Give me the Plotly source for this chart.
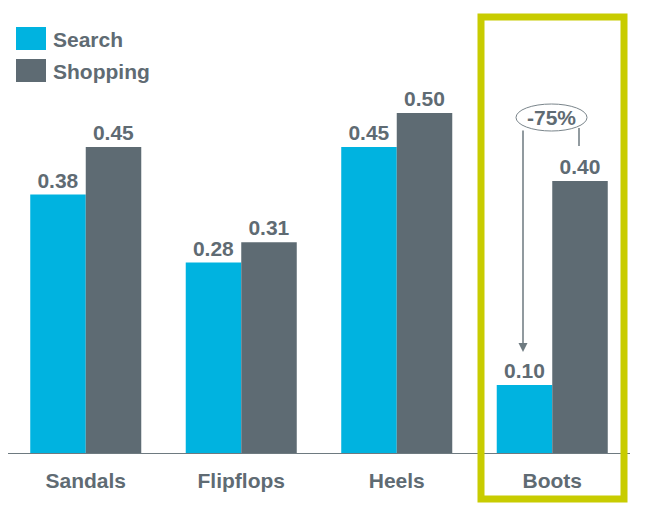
import plotly.graph_objects as go

categories = ["Sandals", "Flipflops", "Heels", "Boots"]
search = [0.38, 0.28, 0.45, 0.10]
shopping = [0.45, 0.31, 0.50, 0.40]
series_names = ["Search", "Shopping"]
change_label = "-75%"

BLUE = "#00B3E0"
GREY = "#5E6B73"
TXT = "#5F6B73"
YEL = "#C8CC00"
FONT = "Liberation Sans, Arial, sans-serif"
FS = 21

W, H = 651, 523
L, R, T, B = 8, 21, 30, 70
PW, PH = W - L - R, H - T - B


def px(x):
    return (x - L) / PW


def py(y):
    return (H - B - y) / PH


fig = go.Figure()
for name, vals, col in [(series_names[0], search, BLUE), (series_names[1], shopping, GREY)]:
    fig.add_trace(go.Bar(
        x=categories, y=vals, name=name, marker=dict(color=col, line=dict(width=0)),
        texttemplate="<b>%{y:.2f}</b>", textposition="outside",
        textfont=dict(size=FS, color=TXT, family=FONT), cliponaxis=False,
        showlegend=False,
    ))

shapes = []
annotations = []
# legend
for i, (name, col) in enumerate([(series_names[0], BLUE), (series_names[1], GREY)]):
    y0 = 27 + i * 32
    shapes.append(dict(type="rect", xref="paper", yref="paper",
                       x0=px(16), x1=px(46), y0=py(y0), y1=py(y0 + 23),
                       fillcolor=col, line=dict(width=0)))
    annotations.append(dict(xref="paper", yref="paper", x=px(51), y=py(y0 + 12),
                            text=f"<b>{name}</b>", showarrow=False, xanchor="left",
                            yanchor="middle", font=dict(size=FS, color=TXT, family=FONT)))

# highlight box
shapes.append(dict(type="rect", xref="paper", yref="paper",
                   x0=px(481), x1=px(624), y0=py(499), y1=py(17),
                   line=dict(color=YEL, width=7), fillcolor="rgba(0,0,0,0)", layer="above"))

# change callout
shapes.append(dict(type="circle", xref="paper", yref="paper",
                   x0=px(516), x1=px(587), y0=py(131), y1=py(104),
                   line=dict(color="#7A858B", width=1), fillcolor="white"))
shapes.append(dict(type="line", xref="paper", yref="paper",
                   x0=px(579), x1=px(579), y0=py(128), y1=py(146),
                   line=dict(color="#6E7A80", width=1.5)))
annotations.append(dict(xref="paper", yref="paper", x=px(523), y=py(352),
                        ax=0, ay=-(352 - 129), axref="pixel", ayref="pixel",
                        text="", showarrow=True, arrowhead=2, arrowsize=1.2,
                        arrowwidth=1.5, arrowcolor="#6E7A80"))
annotations.append(dict(xref="paper", yref="paper", x=px(551.5), y=py(118),
                        text=f"<b>{change_label}</b>", showarrow=False,
                        xanchor="center", yanchor="middle",
                        font=dict(size=FS, color=TXT, family=FONT)))

fig.update_layout(
    width=W, height=H, margin=dict(l=L, r=R, t=T, b=B),
    paper_bgcolor="white", plot_bgcolor="white",
    barmode="group", bargap=0.286, bargroupgap=0,
    font=dict(family=FONT, color=TXT),
    shapes=shapes, annotations=annotations,
    xaxis=dict(showline=True, linecolor="#6E7A80", linewidth=1, ticks="",
               tickfont=dict(size=FS, color=TXT, family=FONT),
               ticklabelstandoff=9, showgrid=False, fixedrange=True,
               tickvals=categories, ticktext=[f"<b>{c}</b>" for c in categories]),
    yaxis=dict(range=[0, PH / 680], visible=False, showgrid=False, zeroline=False),
)

fig.write_html("out.html")
